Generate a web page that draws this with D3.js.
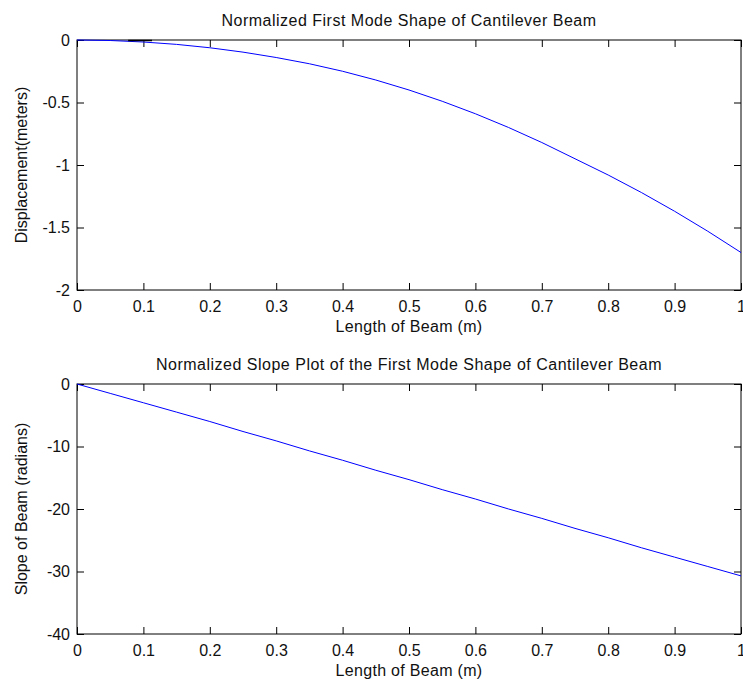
<!DOCTYPE html>
<html>
<head>
<meta charset="utf-8">
<script src="https://cdn.jsdelivr.net/npm/d3@7"></script>
<style>
	body { margin: 0; background: #fff; }
	text { font-family: "Liberation Sans", Arial, sans-serif; fill: #111; }
	.axis path, .axis line { stroke: #000; }
</style>
</head>
<body>
<svg id="viz"></svg>
<script>
// beam position (m)
const beamX = [0, 0.05, 0.1, 0.15, 0.2, 0.25, 0.3, 0.35, 0.4, 0.45, 0.5,
	0.55, 0.6, 0.65, 0.7, 0.75, 0.8, 0.85, 0.9, 0.95, 1.0];

// displacement of the first mode (m)
const displacement = [0, -0.004, -0.016, -0.035, -0.062, -0.097, -0.14, -0.19, -0.25, -0.32, -0.40,
	-0.49, -0.59, -0.70, -0.82, -0.95, -1.08, -1.22, -1.37, -1.53, -1.70];

// slope of the first mode (rad)
const slope = [0, -1.5, -3.0, -4.5, -6.0, -7.6, -9.1, -10.7, -12.2, -13.8, -15.3,
	-16.9, -18.4, -20.0, -21.5, -23.1, -24.6, -26.2, -27.7, -29.2, -30.7];

// the short black segment near the top edge of the first plot
const markX = [0.077, 0.113];
const markY = [-0.004, -0.004];

const xTicks = [0, 0.1, 0.2, 0.3, 0.4, 0.5, 0.6, 0.7, 0.8, 0.9, 1];
const dispTicks = [0, -0.5, -1, -1.5, -2];
const slopeTicks = [0, -10, -20, -30, -40];

const width = 743;
const height = 684;

const svg = d3.select("svg#viz")
	.attr("width", width)
	.attr("height", height);

let translate = function(x, y) {
	return "translate(" + x + "," + y + ")";
};

// plain hyphen for negatives, like the original
let fmt = d => String(d);

let drawPanel = function(opts) {
	const left = 77, right = 741;
	const top = opts.top, bottom = opts.bottom;

	const x = d3.scaleLinear().domain([0, 1]).range([left, right]);
	const y = d3.scaleLinear().domain(opts.yDomain).range([bottom, top]);

	const g = svg.append("g");

	// ticks point inward on all four sides
	g.append("g").attr("class", "axis")
		.attr("transform", translate(0, bottom))
		.call(d3.axisBottom(x).tickValues(xTicks).tickSizeInner(-7).tickSizeOuter(0).tickFormat(fmt))
		.call(a => a.selectAll("text").attr("dy", null).attr("y", 22).style("font-size", "16px"));

	g.append("g").attr("class", "axis")
		.attr("transform", translate(0, top))
		.call(d3.axisTop(x).tickValues(xTicks).tickSizeInner(-7).tickSizeOuter(0).tickFormat(""));

	g.append("g").attr("class", "axis")
		.attr("transform", translate(left, 0))
		.call(d3.axisLeft(y).tickValues(opts.yTicks).tickSizeInner(-7).tickSizeOuter(0).tickFormat(fmt))
		.call(a => a.selectAll("text").attr("x", -7).style("font-size", "16px"));

	g.append("g").attr("class", "axis")
		.attr("transform", translate(right, 0))
		.call(d3.axisRight(y).tickValues(opts.yTicks).tickSizeInner(-7).tickSizeOuter(0).tickFormat(""));

	g.selectAll(".axis text").style("font-family", "'Liberation Sans', Arial, sans-serif").attr("fill", "#111");
	g.selectAll(".domain").remove();

	g.append("rect")
		.attr("x", left).attr("y", top)
		.attr("width", right - left).attr("height", bottom - top)
		.attr("fill", "none").attr("stroke", "#000");

	const line = d3.line()
		.x(d => x(d[0]))
		.y(d => y(d[1]));

	g.append("path")
		.datum(d3.zip(beamX, opts.values))
		.attr("fill", "none")
		.attr("stroke", "#0000ff")
		.attr("stroke-width", 1)
		.attr("d", line);

	if (opts.mark) {
		g.append("path")
			.datum(d3.zip(markX, markY))
			.attr("fill", "none")
			.attr("stroke", "#000")
			.attr("stroke-width", 1.5)
			.attr("d", line);
	}

	g.append("text")
		.attr("x", (left + right) / 2).attr("y", top - 14)
		.attr("text-anchor", "middle")
		.style("font-size", "16px")
		.style("letter-spacing", "0.5px")
		.text(opts.title);

	g.append("text")
		.attr("x", (left + right) / 2).attr("y", bottom + 42)
		.attr("text-anchor", "middle")
		.style("font-size", "16px")
		.style("letter-spacing", "0.3px")
		.text("Length of Beam (m)");

	g.append("text")
		.attr("transform", translate(27, (top + bottom) / 2) + " rotate(-90)")
		.attr("text-anchor", "middle")
		.style("font-size", "16px")
		.text(opts.yLabel);
};

drawPanel({
	top: 40, bottom: 290,
	yDomain: [-2, 0], yTicks: dispTicks,
	values: displacement,
	mark: true,
	title: "Normalized First Mode Shape of Cantilever Beam",
	yLabel: "Displacement(meters)"
});

drawPanel({
	top: 384, bottom: 634,
	yDomain: [-40, 0], yTicks: slopeTicks,
	values: slope,
	mark: false,
	title: "Normalized Slope Plot of the First Mode Shape of Cantilever Beam",
	yLabel: "Slope of Beam (radians)"
});
</script>
</body>
</html>
